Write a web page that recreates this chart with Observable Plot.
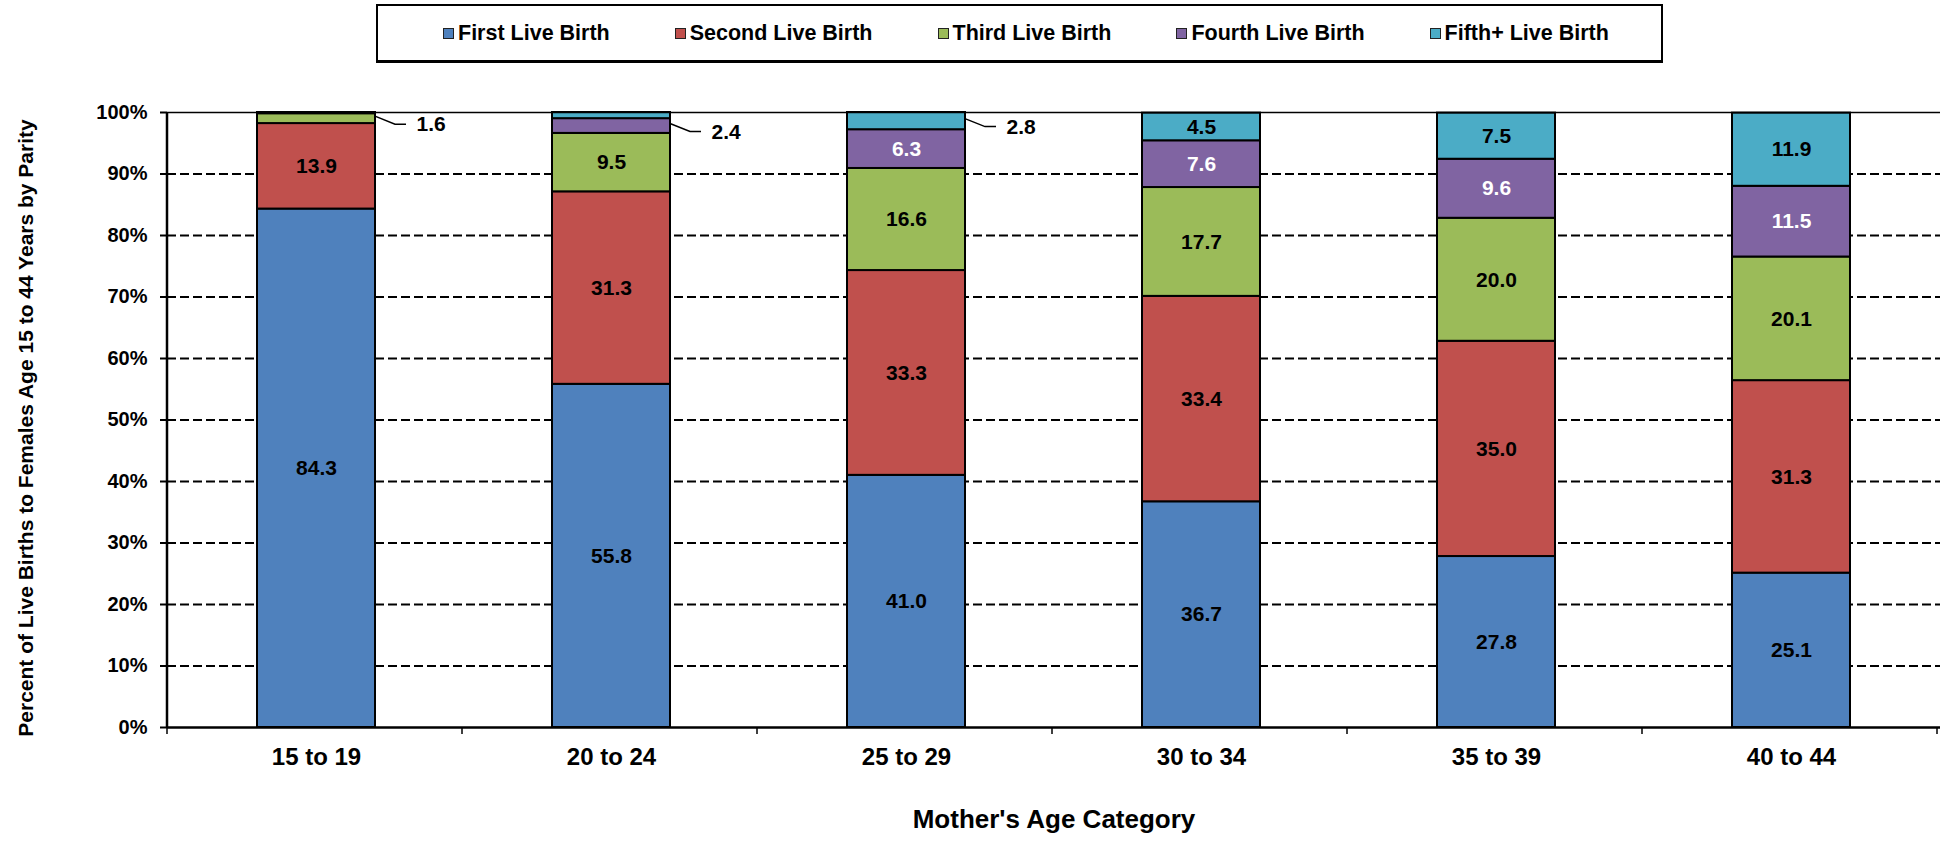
<!DOCTYPE html>
<html>
<head>
<meta charset="utf-8">
<script src="https://cdn.jsdelivr.net/npm/d3@7"></script>
<script src="https://cdn.jsdelivr.net/npm/@observablehq/plot@0.6"></script>
<style>
  html, body { margin: 0; padding: 0; background: #fff; }
  body { width: 1940px; height: 845px; overflow: hidden; font-family: "Liberation Sans", Arial, sans-serif; font-weight: bold; color: #000; }
  #legend { position: relative; height: 70px; }
  #legend .box { position: absolute; left: 376px; top: 4px; width: 1287px; height: 59px; box-sizing: border-box;
    border: 2px solid #000; border-bottom-width: 3px; display: flex; align-items: center; padding-left: 65px; }
  #legend .item { display: flex; align-items: center; font-size: 21.5px; white-space: nowrap; margin-right: 65px; }
  #legend .sw { width: 9px; height: 9px; border: 1px solid #222; margin-right: 4px; }
  #chart svg { display: block; }
</style>
</head>
<body>
<div id="legend"><div class="box"></div></div>
<div id="chart"></div>
<script>
const ages = ["15 to 19", "20 to 24", "25 to 29", "30 to 34", "35 to 39", "40 to 44"];
const parities = ["First Live Birth", "Second Live Birth", "Third Live Birth", "Fourth Live Birth", "Fifth+ Live Birth"];
const colors = ["#4F81BD", "#C0504D", "#9BBB59", "#8064A2", "#4BACC6"];
const firstBirth  = [84.3, 55.8, 41.0, 36.7, 27.8, 25.1];
const secondBirth = [13.9, 31.3, 33.3, 33.4, 35.0, 31.3];
const thirdBirth  = [1.6, 9.5, 16.6, 17.7, 20.0, 20.1];
const fourthBirth = [0.2, 2.4, 6.3, 7.6, 9.6, 11.5];
const fifthBirth  = [0.0, 1.0, 2.8, 4.5, 7.5, 11.9];
const yTicks = [0, 10, 20, 30, 40, 50, 60, 70, 80, 90, 100];
const xTitle = "Mother's Age Category";
const yTitle = "Percent of Live Births to Females Age 15 to 44 Years by Parity";

const series = [firstBirth, secondBirth, thirdBirth, fourthBirth, fifthBirth];
const rows = [];
ages.forEach((age, i) => {
  let base = 0;
  parities.forEach((p, j) => {
    const v = series[j][i];
    rows.push({age, parity: p, value: v, mid: base + v / 2,
      kind: v < 1.5 ? "none" : v < 4 ? "outside" : "inside", white: j === 3});
    base += v;
  });
});

// legend
const box = document.querySelector("#legend .box");
parities.forEach((p, j) => {
  const it = document.createElement("div");
  it.className = "item";
  const sw = document.createElement("span");
  sw.className = "sw";
  sw.style.background = colors[j];
  it.appendChild(sw);
  it.appendChild(document.createTextNode(p));
  box.appendChild(it);
});

const fmt = d => d.value.toFixed(1);
const plot = Plot.plot({
  width: 1940, height: 775,
  marginLeft: 167, marginRight: 0, marginTop: 42, marginBottom: 118,
  style: {fontFamily: "Liberation Sans, Arial, sans-serif", fontWeight: "bold", color: "#000", background: "#fff", overflow: "visible"},
  x: {domain: ages, paddingInner: 0.6, paddingOuter: 0.3, label: null},
  y: {domain: [0, 100], label: null},
  color: {domain: parities, range: colors},
  marks: [
    Plot.ruleY(yTicks.filter(t => t > 0 && t < 100), {stroke: "#000", strokeWidth: 2, strokeDasharray: "9,4"}),
    Plot.barY(rows.filter(d => d.value > 0), {x: "age", y: "value", z: "parity", fill: "parity", stroke: "#000", strokeWidth: 2}),
    Plot.ruleY([100], {stroke: "#000", strokeWidth: 1.5}),
    Plot.ruleY([0], {stroke: "#000", strokeWidth: 2.5}),
    Plot.text(rows, Plot.stackY({x: "age", y: "value", z: "parity",
      text: d => d.kind === "inside" && !d.white ? fmt(d) : "", fill: "#000", fontSize: 21, fontWeight: "bold"})),
    Plot.text(rows, Plot.stackY({x: "age", y: "value", z: "parity",
      text: d => d.kind === "inside" && d.white ? fmt(d) : "", fill: "#fff", fontSize: 21, fontWeight: "bold"})),
    Plot.text(rows, Plot.stackY({x: "age", y: "value", z: "parity",
      text: d => d.kind === "outside" ? fmt(d) : "", fill: "#000", fontSize: 21, fontWeight: "bold",
      textAnchor: "start", dx: 100, dy: 6})),
    Plot.axisY({ticks: yTicks, tickFormat: d => d + "%", tickSize: 7, tickPadding: 13, fontSize: 20, stroke: "#000", strokeWidth: 2, label: null}),
    Plot.axisX({tickSize: 0, tickPadding: 20, fontSize: 24, label: null}),
    Plot.text([xTitle], {text: d => d, frameAnchor: "bottom", dy: 100, fontSize: 26, fontWeight: "bold"}),
    Plot.text([yTitle], {text: d => d, frameAnchor: "left", textAnchor: "middle", dx: -141, dy: 8, rotate: -90, fontSize: 21, fontWeight: "bold"})
  ]
});
document.getElementById("chart").appendChild(plot);

// axis line, category boundary ticks and leader lines, placed with the plot's own scales
const sx = plot.scale("x"), sy = plot.scale("y");
const svg = d3.select(plot);
const x0 = sx.range[0], yBottom = sy.apply(0), yTop = sy.apply(100);
svg.append("line").attr("x1", x0).attr("x2", x0).attr("y1", yTop).attr("y2", yBottom + 1)
  .attr("stroke", "#000").attr("stroke-width", 2.5);
for (let i = 0; i <= ages.length; i++) {
  const bx = x0 + i * sx.step;
  svg.append("line").attr("x1", bx).attr("x2", bx).attr("y1", yBottom).attr("y2", yBottom + 7)
    .attr("stroke", "#000").attr("stroke-width", 1.5);
}
rows.filter(d => d.kind === "outside").forEach(d => {
  const right = sx.apply(d.age) + sx.bandwidth;
  const yy = sy.apply(d.mid);
  svg.append("path")
    .attr("d", `M${right},${yy - 2}L${right + 20},${yy + 6}L${right + 31},${yy + 6}`)
    .attr("fill", "none").attr("stroke", "#000").attr("stroke-width", 1.5);
});
</script>
</body>
</html>
